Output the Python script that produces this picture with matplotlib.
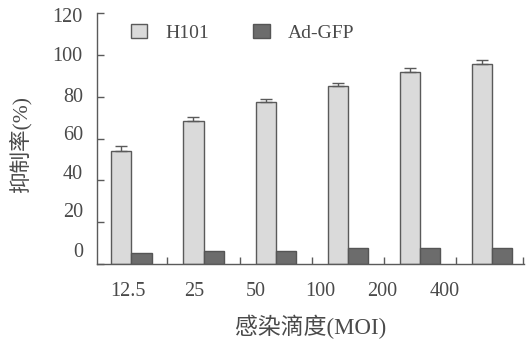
import numpy as np
import matplotlib.pyplot as plt
from matplotlib.patches import Patch

# values
moi_labels = ["12.5", "25", "50", "100", "200", "400"]
h101 = [54.2, 68.4, 77.4, 85.2, 92.0, 95.8]
h101_err = [2.0, 1.7, 1.6, 1.4, 1.7, 1.6]
adgfp = [5.4, 6.4, 6.4, 7.5, 7.7, 7.5]
y_labels = ["0", "20", "40", "60", "80", "100", "120"]

# the scan has tick labels shifted a bit from their ticks
x_label_pos = [-0.05, 0.87, 1.72, 2.62, 3.48, 4.35]
y_label_pos = [6.9, 25.8, 44.0, 62.6, 80.8, 100.4, 119.0]

TXT = "#4a4a4a"
LINE = "#5a5a5a"
FONT = ["Liberation Serif", "Noto Sans CJK SC"]

plt.rcParams["font.family"] = FONT
plt.rcParams["font.size"] = 14

fig = plt.figure(figsize=(5.27, 3.39), dpi=100)
ax = fig.add_axes([96.7 / 527, 75 / 339, 427.3 / 527, 251 / 339])

x = np.arange(len(moi_labels))
w = 0.278
ax.bar(x, h101, width=-w, align="edge", color="#dadada",
       edgecolor=LINE, linewidth=1.0, zorder=2)
ax.errorbar(x - w / 2, h101, yerr=[np.zeros(len(h101)), h101_err],
            fmt="none", ecolor=LINE, elinewidth=1.0, capsize=4, capthick=1.0,
            zorder=3)
ax.bar(x, adgfp, width=w, align="edge", color="#6c6c6c",
       edgecolor="#555555", linewidth=1.0, zorder=2)

ax.set_xlim(-0.483, 5.45)
ax.set_ylim(0, 120)

for s in ["top", "right"]:
    ax.spines[s].set_visible(False)
for s in ["left", "bottom"]:
    ax.spines[s].set_color(LINE)
    ax.spines[s].set_linewidth(1.0)

# major ticks: marks only
ax.set_xticks([0.5, 1.5, 2.5, 3.5, 4.5, 5.43])
ax.set_yticks(np.arange(0, 121, 20))
ax.tick_params(which="major", direction="in", length=5, width=1.0,
               color=LINE, labelbottom=False, labelleft=False)

# minor ticks: labels only, at the scanned positions
ax.set_xticks(x_label_pos, minor=True)
ax.set_xticklabels(moi_labels, minor=True)
ax.set_yticks(y_label_pos, minor=True)
ax.set_yticklabels(y_labels, minor=True)
ax.tick_params(which="minor", length=0, labelcolor=TXT, labelsize=14.5)
ax.tick_params(axis="x", which="minor", pad=13)
ax.tick_params(axis="y", which="minor", pad=10)

ax.set_xlabel("感染滴度(MOI)", color=TXT, fontsize=16.5, labelpad=10)
ax.set_ylabel("抑制率(%)", color=TXT, fontsize=15.5)
ax.yaxis.set_label_coords(-0.152, 0.475)

handles = [Patch(facecolor="#dadada", edgecolor=LINE, linewidth=1.0),
           Patch(facecolor="#6c6c6c", edgecolor="#555555", linewidth=1.0)]
leg = ax.legend(handles, ["H101", "Ad-GFP"], loc="center left",
                bbox_to_anchor=(0.08, 0.922), ncol=2, frameon=False,
                handlelength=0.85, handleheight=0.75, handletextpad=0.9,
                columnspacing=2.3, borderpad=0, borderaxespad=0)
for t in leg.get_texts():
    t.set_color(TXT)

fig.savefig("out.png", dpi=100)
